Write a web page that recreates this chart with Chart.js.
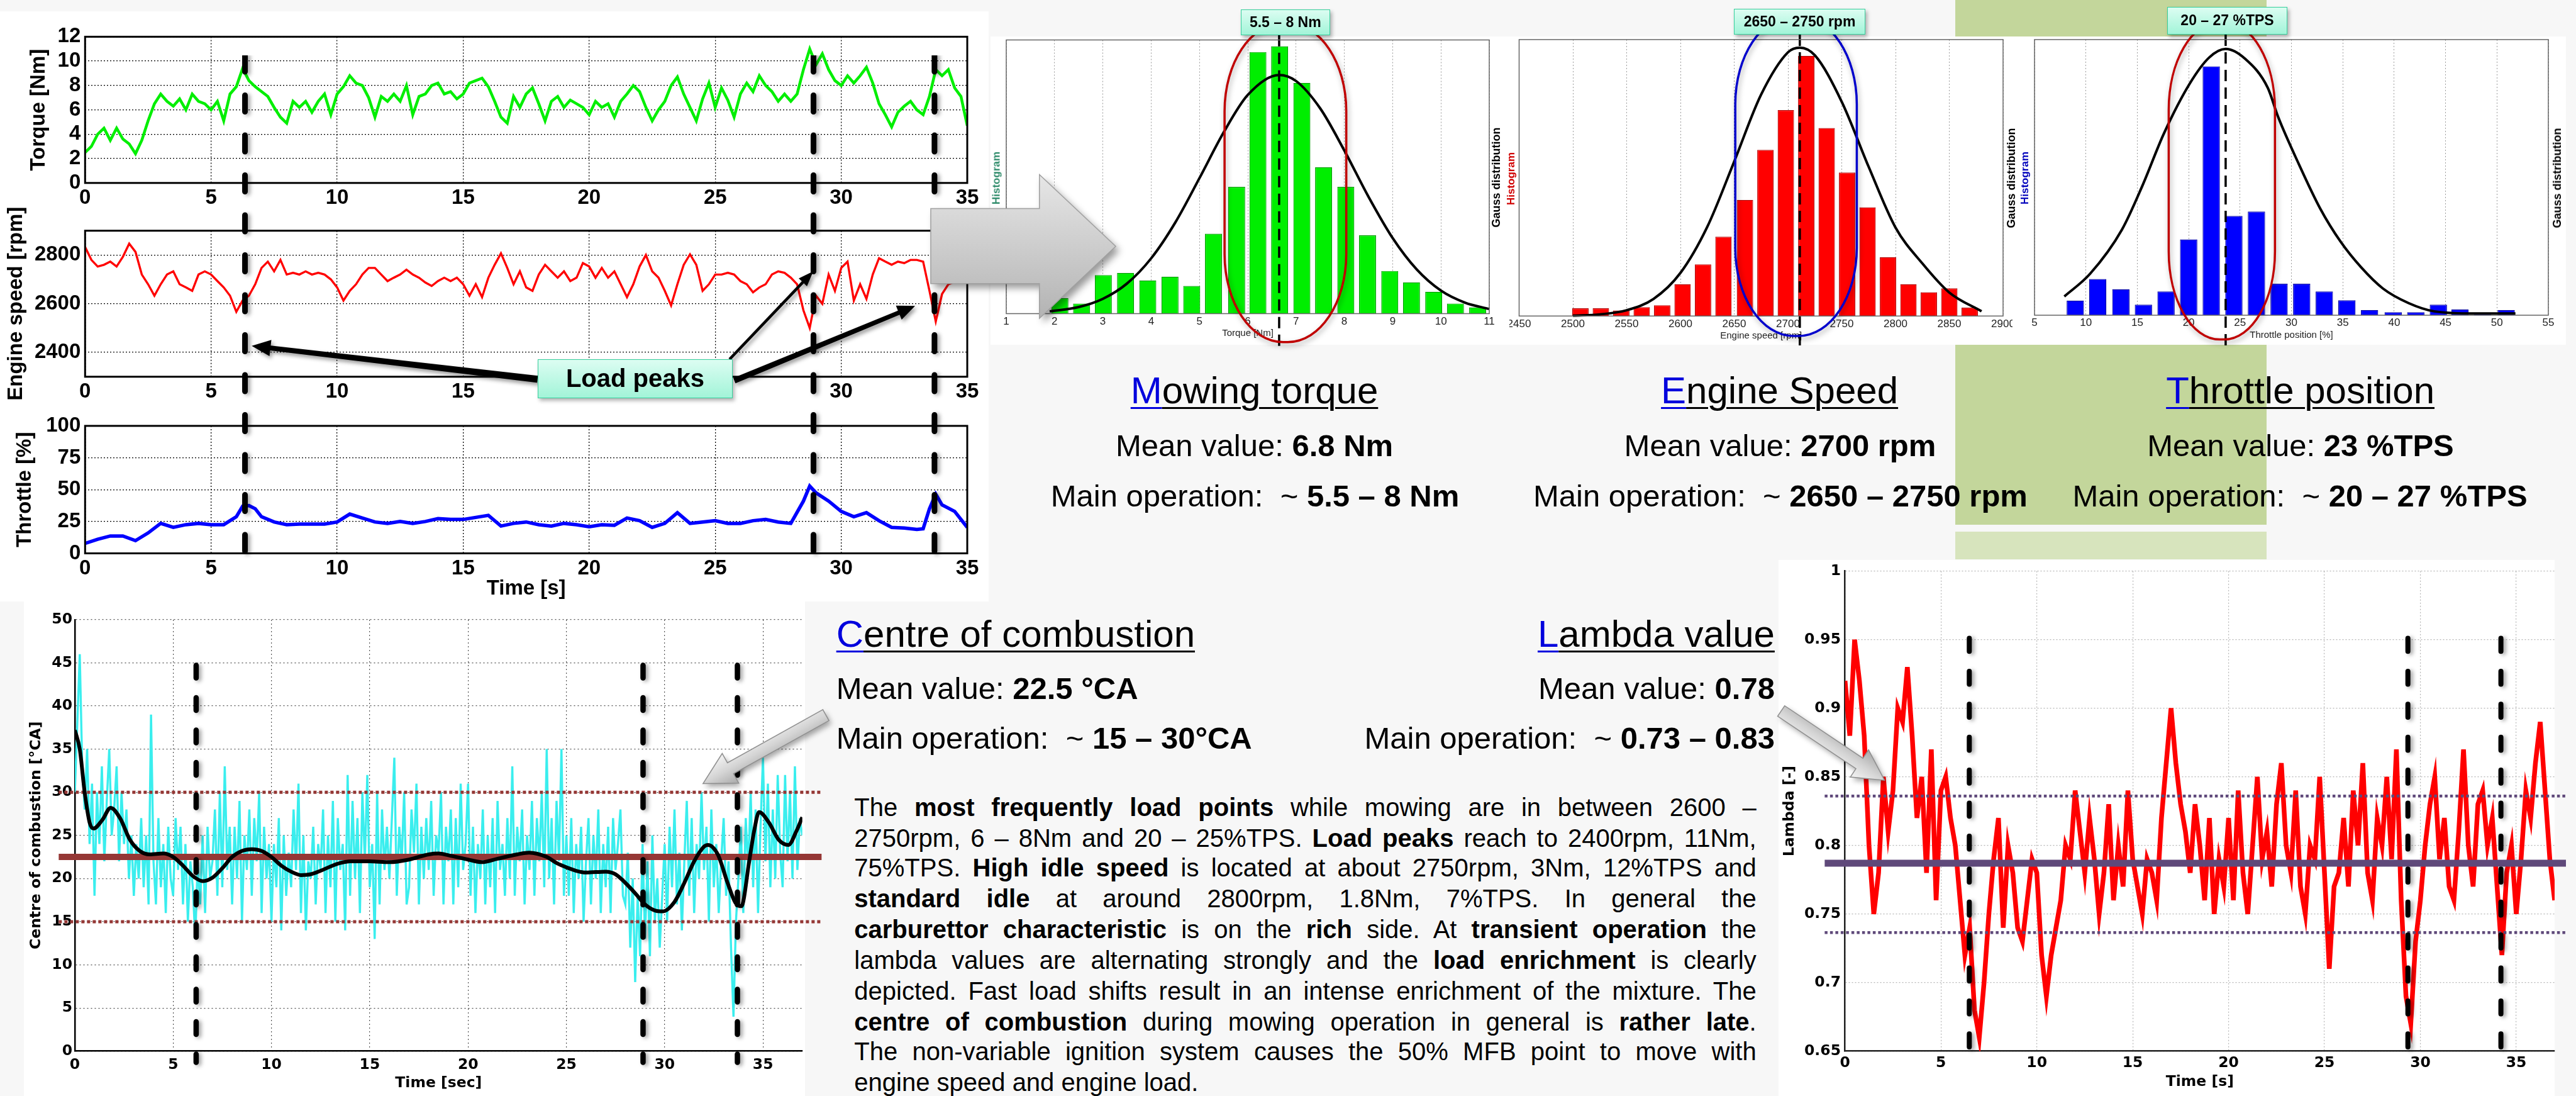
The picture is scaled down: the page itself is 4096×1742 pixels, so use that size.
<!DOCTYPE html>
<html>
<head>
<meta charset="utf-8">
<title>Mowing operation analysis</title>
<script src="https://cdn.jsdelivr.net/npm/chart.js@4.4.1/dist/chart.umd.min.js"></script>
<style>
  html, body { margin:0; padding:0; background:#f7f7f7; }
  #root { position:relative; width:4096px; height:1742px; overflow:hidden; background:#f7f7f7; font-family:"Liberation Sans", Arial, sans-serif; }
  .blk { position:absolute; }
  canvas { position:absolute; display:block; }
  .t { position:absolute; white-space:nowrap; color:#000; line-height:1; }
  .u { text-decoration:underline; text-decoration-thickness:3px; text-underline-offset:6px; }
  .first { color:#0000dd; }
  .lbl { position:absolute; display:flex; align-items:center; justify-content:center; font-weight:bold; color:#000;
         background:linear-gradient(#dcfdf2,#a2f4d8); border:1.5px solid #36cf9c; box-shadow:3px 4px 6px rgba(0,0,0,0.3);
         box-sizing:border-box; white-space:nowrap; z-index:7; }
  .rot { position:absolute; white-space:nowrap; font-weight:bold; line-height:1; transform:translate(-50%,-50%) rotate(-90deg); z-index:6; }
</style>
</head>
<body>
<div id="root"></div>
<script>
// ======================= DATA =======================
const timeTicks = [0, 5, 10, 15, 20, 25, 30, 35];
const torqueTicks = [0, 2, 4, 6, 8, 10, 12];
const speedTicks = [2400, 2600, 2800];
const throttleTicks = [0, 25, 50, 75, 100];

const torqueStep = 0.25;
const torqueValues = [
  2.5, 3.0, 4.0, 4.5,   3.5, 4.5, 3.6, 3.2,   2.4, 3.5, 5.1, 6.5,   7.3, 6.7, 6.3, 6.9,
  6.0, 7.3, 6.7, 6.5,   6.0, 6.7, 5.1, 7.3,   7.9, 9.4, 8.4, 7.9,   7.5, 7.1, 6.2, 5.4,
  4.9, 6.7, 6.2, 6.7,   5.8, 6.7, 7.3, 5.6,   7.3, 7.9, 8.8, 8.2,   8.0, 7.0, 5.4, 7.1,
  6.7, 7.3, 6.7, 8.0,   5.6, 7.1, 7.3, 8.0,   8.2, 7.3, 7.5, 6.9,   7.3, 8.2, 8.4, 8.6,
  7.9, 6.7, 5.4, 4.9,   7.1, 6.2, 7.3, 7.8,   6.5, 5.1, 6.7, 7.1,   6.2, 6.8, 6.5, 6.2,
  5.6, 6.7, 6.2, 6.5,   5.4, 6.7, 7.3, 8.0,   7.5, 6.2, 5.1, 6.0,   6.7, 8.0, 8.7, 7.3,
  6.2, 5.1, 6.9, 8.2,   6.2, 7.8, 6.8, 5.4,   7.3, 8.2, 7.5, 8.8,   8.0, 7.5, 6.7, 7.3,
  6.7, 7.3, 9.3, 11.0,  9.7, 10.6, 9.3, 8.4,  8.0, 8.8, 8.2, 8.8,   9.5, 8.2, 6.5, 5.6,
  4.6, 5.8, 6.3, 6.7,   6.0, 5.6, 7.1, 9.3,   8.8, 9.3, 7.8, 7.1,   4.7
];
const speedStep = 0.25;
const speedValues = [
  2833, 2780, 2753, 2760,  2773, 2753, 2793, 2847,  2813, 2720, 2680, 2633,  2680, 2720, 2733, 2680,
  2667, 2653, 2720, 2733,  2720, 2693, 2667, 2633,  2567, 2613, 2633, 2680,  2747, 2773, 2733, 2780,
  2720, 2727, 2720, 2733,  2720, 2727, 2720, 2700,  2667, 2613, 2653, 2680,  2720, 2747, 2747, 2720,
  2693, 2707, 2720, 2740,  2720, 2707, 2687, 2673,  2693, 2707, 2693, 2707,  2680, 2633, 2680, 2627,
  2707, 2760, 2807, 2747,  2680, 2733, 2667, 2653,  2720, 2760, 2733, 2707,  2733, 2693, 2707, 2767,
  2753, 2707, 2747, 2707,  2733, 2680, 2627, 2680,  2753, 2800, 2733, 2707,  2653, 2593, 2680, 2760,
  2803, 2760, 2653, 2680,  2720, 2720, 2727, 2720,  2693, 2680, 2647, 2667,  2680, 2720, 2733, 2727,
  2707, 2680, 2573, 2500,  2633, 2600, 2720, 2653,  2747, 2773, 2613, 2680,  2620, 2720, 2787, 2773,
  2760, 2773, 2767, 2780,  2780, 2773, 2653, 2527,  2640, 2680, 2690, 2700,  2710
];
const throttleTime = [0,0.5,1,1.5,2,2.5,3,3.5,4,4.5,5,5.5,6,6.25,6.5,6.75,7,7.5,8,8.5,9,9.5,10,10.5,11,11.5,12,12.5,13,13.5,14,14.5,15,15.5,16,16.5,17,17.5,18,18.5,19,19.5,20,20.5,21,21.5,22,22.5,23,23.5,24,24.5,25,25.5,26,26.5,27,27.5,28,28.5,28.75,29,29.5,30,30.5,31,31.5,32,32.5,33,33.25,33.5,33.75,34,34.5,35];
const throttleValues = [7.8,11,13.6,13.6,10,16,23.5,20.4,22.5,23.5,22.5,22.5,28.7,37,37.5,35,28.7,24.6,22.5,23,23,23,24.6,30.8,27.7,24.6,23.5,25,23.5,25,27.2,26.6,26.6,28.2,29.8,21.4,23.5,24.6,22.5,21.4,23.5,22.5,20.9,22.5,22,27.7,25.6,20.4,23.5,31.9,23.5,24.6,25.6,23.5,23.5,25.6,26.6,24.6,23.5,41,52.8,47.5,41,32.9,28.7,31.9,25.6,20.4,19.9,18.8,19.3,35,46.5,38,32.9,20.4];
const loadPeakTimes = [6.35, 28.9, 33.7];

const torqueHistTicks = [1,2,3,4,5,6,7,8,9,10,11];
const torqueBins = [2.11,2.56,3.01,3.47,3.93,4.39,4.84,5.29,5.77,6.21,6.66,7.12,7.57,8.03,8.48,8.94,9.39,9.85,10.3,10.76];
const torqueCounts = [5.7,3.7,14.1,14.9,12.1,13.5,10.1,29.2,46.3,95.6,97.7,84.3,53.5,46.3,28.6,15.6,11.4,8.0,3.7,2.3];
const torqueGaussX = [1.9,2.5,3,3.5,4,4.5,5,5.5,6,6.65,7,7.5,8,8.5,9,9.5,10,10.5,11];
const torqueGaussY = [0.8,2.4,5.4,11.0,20.2,33.3,49.5,66.2,79.9,87.2,85.0,75.0,59.6,42.7,27.6,16.1,8.4,4.0,1.7];
const torqueMean = 6.65;
const torqueMainRange = [5.52, 8.04];

const speedHistTicks = [2450,2500,2550,2600,2650,2700,2750,2800,2850,2900];
const speedBins = [2507,2526,2545,2564,2583,2602,2621,2640,2660,2679,2698,2717,2736,2755,2774,2793,2812,2831,2850,2869];
const speedCounts = [2.8,2.8,2.0,3.2,3.9,11.5,18.7,28.7,42.0,60.1,74.5,94.1,68.0,51.9,39.3,21.3,11.5,8.6,10.0,3.0];
const speedGaussX = [2500,2525,2550,2575,2600,2625,2650,2675,2700,2711,2725,2750,2775,2800,2825,2850,2880];
const speedGaussY = [0.1,0.6,2.1,6.2,15.6,32.3,55.9,80.1,95.4,97.1,94.3,77.5,54,32,19,8.5,1.7];
const speedMean = 2711;
const speedMainRange = [2651, 2764];

const throttleHistTicks = [5,10,15,20,25,30,35,40,45,50,55];
const throttleBins = [8.97,11.15,13.4,15.6,17.8,20.0,22.2,24.4,26.6,28.8,31.0,33.2,35.4,37.6,39.9,42.1,44.3,46.4,48.6,50.9];
const throttleCounts = [5.3,13.1,9.4,3.8,8.6,27.5,90.3,36.0,37.6,11.4,11.4,8.6,5.4,1.9,1.1,1.1,3.8,2.1,0.5,1.9];
const throttleGaussX = [7.9,10.4,13.5,15.5,17.6,20.1,22,23.6,25.5,27.7,28.7,30.7,32.8,34.8,36.8,38.9,41.4,43.9,48,51.8];
const throttleGaussY = [6.8,15,31,47,66,84,93.5,96.6,93,82.5,72,55,38.7,26.6,17.3,9.7,4.4,1.4,0.6,0.6];
const throttleMean = 23.6;
const throttleMainRange = [18.06, 28.4];

const cocTicksX = [0, 5, 10, 15, 20, 25, 30, 35];
const cocTicksY = [0, 5, 10, 15, 20, 25, 30, 35, 40, 45, 50];
const cocStep = 0.125;
const cocValues = [
  30, 38, 46, 33, 28, 35, 24, 31,
  18, 30, 24, 33, 22, 29, 35, 25,
  28, 33, 22, 30, 24, 28, 20, 25,
  18, 24, 20, 27, 19, 25, 17, 39,
  22, 17, 27, 19, 24, 16, 26, 20,
  18, 27, 21, 26, 17, 24, 15, 22,
  19, 13, 22, 17, 25, 16, 26, 20,
  22, 28, 18, 30, 19, 33, 21, 26,
  17, 26, 20, 29, 15, 25, 21, 28,
  18, 27, 22, 30, 16, 26, 20, 24,
  15, 24, 19, 27, 14, 25, 18, 23,
  19, 28, 21, 31, 16, 25, 14, 22,
  20, 26, 17, 24, 21, 28, 16, 25,
  19, 29, 15, 27, 21, 24, 14, 32,
  18, 29, 20, 27, 16, 30, 22, 32,
  19, 24, 13, 30, 17, 28, 21, 26,
  20, 27, 34, 18, 26, 22, 30, 17,
  19, 28, 23, 31, 17, 26, 20, 27,
  21, 29, 18, 25, 23, 30, 17, 26,
  22, 28, 17, 27, 19, 31, 21, 24,
  31, 18, 26, 16, 24, 20, 28, 17,
  25, 19, 27, 16, 29, 21, 24, 18,
  27, 20, 33, 18, 26, 22, 28, 17,
  25, 21, 29, 18, 27, 22, 30, 19,
  35, 20, 27, 17, 29, 22, 35, 18,
  25, 18, 27, 16, 24, 20, 26, 15,
  22, 27, 17, 25, 20, 28, 16, 24,
  19, 26, 16, 27, 21, 24, 28, 18,
  17, 23, 12, 20, 8, 18, 11, 24,
  13, 22, 11, 25, 15, 20, 12, 18,
  24, 15, 26, 19, 28, 17, 23, 14,
  22, 29, 18, 27, 16, 24, 20, 30,
  21, 26, 15, 28, 19, 24, 16, 22,
  27, 18, 22, 12, 4, 15, 20, 26,
  16, 27, 21, 30, 19, 28, 16, 26,
  34, 22, 31, 19, 28, 20, 32, 23,
  19, 32, 22, 30, 20, 33, 21, 27,
  25
];
const cocSmoothTime = [0,0.25,0.5,0.75,0.95,1.4,1.82,2.3,2.8,3.3,3.8,4.5,5.0,5.5,6.0,6.5,7.0,7.5,8.0,8.5,9.0,9.5,10.0,10.5,11.0,11.5,12.0,12.5,13.0,13.5,14.0,15.0,16.0,17.0,18.0,18.5,19.0,20.0,20.7,21.5,22.5,23.1,24.0,24.5,25.0,25.5,26.0,27.0,27.5,28.0,28.5,29.0,29.5,29.9,30.5,31.0,31.5,32.0,32.2,32.7,33.2,33.6,33.9,34.3,34.55,34.8,35.3,35.8,36.3,36.7,37.0];
const cocSmoothValues = [37.2,35,30,26.5,25.8,26.8,28.2,27,24.5,23.2,22.8,22.9,22.5,21.5,20.3,19.7,20.1,21.2,22.5,23.2,23.4,23.2,22.5,21.5,20.8,20.4,20.5,20.9,21.4,21.8,22.0,22.0,21.9,22.2,22.8,22.9,22.7,22.2,21.9,22.3,22.8,23.0,22.5,21.8,21.3,20.9,20.7,20.8,20.5,19.5,18.3,17.0,16.3,16.2,17.3,19.5,22.0,23.7,23.9,22.8,19.5,17.2,16.8,22.0,25.5,27.7,26.5,24.5,23.9,25.5,27.1];
const cocMean = 22.5;
const cocBand = [15, 30];
const cocPeakTimes = [6.17, 28.9, 33.7];

const lambdaTicksX = [0, 5, 10, 15, 20, 25, 30, 35];
const lambdaTicksY = [0.65, 0.7, 0.75, 0.8, 0.85, 0.9, 0.95, 1];
const lambdaTickLabels = ['0.65', '0.7', '0.75', '0.8', '0.85', '0.9', '0.95', '1'];
const lambdaStep = 0.25;
const lambdaValues = [
  .92, .88, .95, .92,  .88, .80, .75, .78,  .85, .81, .84, .90,  .89, .93, .88, .82,
  .85, .78, .87, .76,  .84, .85, .82, .80,  .76, .72, .74, .68,  .66, .70, .75, .79,
  .82, .74, .80, .78,  .74, .73, .76, .79,  .78, .72, .69, .72,  .74, .76, .80, .79,
  .84, .81, .78, .82,  .79, .75, .78, .83,  .76, .80, .77, .84,  .79, .77, .75, .79,
  .78, .76, .82, .86,  .90, .86, .83, .81,  .78, .83, .80, .76,  .82, .75, .79, .77,
  .82, .76, .84, .78,  .75, .80, .85, .79,  .81, .77, .83, .86,  .80, .78, .84, .77,
  .75, .80, .79, .85,  .78, .71, .77, .78,  .82, .77, .84, .80,  .86, .78, .76, .82,
  .80, .85, .79, .87,  .76, .69, .67, .73,  .76, .80, .83, .85,  .79, .82, .77, .76,
  .81, .87, .80, .77,  .83, .84, .80, .82,  .77, .72, .78, .80,  .75, .79, .84, .82,
  .86, .89, .84, .79,  .76
];
const lambdaMean = 0.787;
const lambdaBand = [0.7365, 0.836];
const lambdaPeakTimes = [6.48, 29.35, 34.2];

// ======================= HELPERS =======================
const FONT = '"Liberation Sans", Arial, sans-serif';
const DVS = '"DejaVu Sans", sans-serif';
const root = document.getElementById('root');

function block(l, t, w, h, bg, z) {
  const d = document.createElement('div');
  d.className = 'blk';
  Object.assign(d.style, { left: l + 'px', top: t + 'px', width: w + 'px', height: h + 'px', background: bg, zIndex: z });
  root.appendChild(d);
  return d;
}
function mkCanvas(box, z) {
  const c = document.createElement('canvas');
  c.width = Math.round(box.w); c.height = Math.round(box.h);
  Object.assign(c.style, { left: box.l + 'px', top: box.t + 'px', width: Math.round(box.w) + 'px', height: Math.round(box.h) + 'px', zIndex: z });
  root.appendChild(c);
  return c;
}
function setTicks(values) { return s => { s.ticks = values.map(v => ({ value: v })); }; }
function fixW(w) { return s => { s.width = w; s.paddingTop = 0; s.paddingBottom = 0; }; }
function fixH(h) { return s => { s.height = h; s.paddingLeft = 0; s.paddingRight = 0; }; }
function pts(xs, ys) { return ys.map((y, i) => ({ x: xs[i], y })); }
function stepPts(step, ys) { return ys.map((y, i) => ({ x: i * step, y })); }

Chart.defaults.font.family = FONT;
Chart.defaults.color = '#000';

const dsShadow = {
  id: 'dsShadow',
  beforeDatasetDraw(chart, args) {
    const ds = chart.data.datasets[args.index];
    if (ds.shadow) {
      const ctx = chart.ctx; ctx.save();
      ctx.shadowColor = ds.shadow.color; ctx.shadowBlur = ds.shadow.blur;
      ctx.shadowOffsetX = ds.shadow.x; ctx.shadowOffsetY = ds.shadow.y;
    }
  },
  afterDatasetDraw(chart, args) {
    const ds = chart.data.datasets[args.index];
    if (ds.shadow) chart.ctx.restore();
  }
};
Chart.register(dsShadow);

function framePlugin(color, width) {
  return { id: 'frame', afterDraw(chart) {
    const a = chart.chartArea, ctx = chart.ctx;
    ctx.save(); ctx.strokeStyle = color; ctx.lineWidth = width;
    ctx.strokeRect(a.left, a.top, a.right - a.left, a.bottom - a.top); ctx.restore();
  } };
}

function drawArrow(ctx, x1, y1, x2, y2, st) {
  const dx = x2 - x1, dy = y2 - y1, L = Math.hypot(dx, dy), ux = dx / L, uy = dy / L, nx = -uy, ny = ux;
  const bx = x2 - ux * st.headL, by = y2 - uy * st.headL, s = st.shaft / 2, h = st.headW / 2;
  const s0 = (st.tail != null ? st.tail : st.shaft) / 2;
  ctx.save();
  if (st.shadow) { ctx.shadowColor = st.shadow; ctx.shadowBlur = st.blur || 8; ctx.shadowOffsetX = st.sx || 3; ctx.shadowOffsetY = st.sy || 3; }
  ctx.beginPath();
  ctx.moveTo(x1 + nx * s0, y1 + ny * s0);
  ctx.lineTo(bx + nx * s, by + ny * s);
  ctx.lineTo(bx + nx * h, by + ny * h);
  ctx.lineTo(x2, y2);
  ctx.lineTo(bx - nx * h, by - ny * h);
  ctx.lineTo(bx - nx * s, by - ny * s);
  ctx.lineTo(x1 - nx * s0, y1 - ny * s0);
  ctx.closePath();
  if (st.gradient) {
    const g = ctx.createLinearGradient(x1 + nx * h, y1 + ny * h, x1 - nx * h, y1 - ny * h);
    g.addColorStop(0, st.gradient[0]); g.addColorStop(0.5, st.gradient[1]); g.addColorStop(1, st.gradient[2]);
    ctx.fillStyle = g;
  } else ctx.fillStyle = st.fill;
  ctx.fill();
  if (st.stroke) { ctx.shadowColor = 'transparent'; ctx.strokeStyle = st.stroke; ctx.lineWidth = st.strokeW || 1.5; ctx.stroke(); }
  ctx.restore();
}
function arrowPlugin(list) {
  return { id: 'arrows', afterDraw(chart) {
    const xs = chart.scales.x, ys = chart.scales.y;
    list.forEach(a => drawArrow(chart.ctx,
      xs.getPixelForValue(a.from[0]), ys.getPixelForValue(a.from[1]),
      xs.getPixelForValue(a.to[0]), ys.getPixelForValue(a.to[1]), a.style));
  } };
}
function ovalPath(ctx, x, y, w, h, rx, ry) {
  const k = 0.5523;
  ctx.beginPath();
  ctx.moveTo(x + rx, y);
  ctx.lineTo(x + w - rx, y);
  ctx.bezierCurveTo(x + w - rx + k * rx, y, x + w, y + ry - k * ry, x + w, y + ry);
  ctx.lineTo(x + w, y + h - ry);
  ctx.bezierCurveTo(x + w, y + h - ry + k * ry, x + w - rx + k * rx, y + h, x + w - rx, y + h);
  ctx.lineTo(x + rx, y + h);
  ctx.bezierCurveTo(x + rx - k * rx, y + h, x, y + h - ry + k * ry, x, y + h - ry);
  ctx.lineTo(x, y + ry);
  ctx.bezierCurveTo(x, y + ry - k * ry, x + rx - k * rx, y, x + rx, y);
  ctx.closePath();
}
function ovalPlugin(range, yTop, yBot, color) {
  return { id: 'oval', afterDraw(chart) {
    const xs = chart.scales.x, ys = chart.scales.y, ctx = chart.ctx;
    const x0 = xs.getPixelForValue(range[0]), x1 = xs.getPixelForValue(range[1]);
    const y0 = ys.getPixelForValue(yTop), y1 = ys.getPixelForValue(yBot);
    const w = x1 - x0;
    ctx.save();
    ctx.shadowColor = 'rgba(0,0,0,0.35)'; ctx.shadowBlur = 8; ctx.shadowOffsetX = 2; ctx.shadowOffsetY = 4;
    ovalPath(ctx, x0, y0, w, y1 - y0, w * 0.48, 140);
    ctx.strokeStyle = color; ctx.lineWidth = 3.5; ctx.stroke();
    ctx.restore();
  } };
}
function bigArrowPlugin(p) {
  return { id: 'bigArrow', afterDraw(chart) {
    const xs = chart.scales.x, ys = chart.scales.y, ctx = chart.ctx;
    const X = v => xs.getPixelForValue(v), Y = v => ys.getPixelForValue(v);
    ctx.save();
    ctx.shadowColor = 'rgba(0,0,0,0.4)'; ctx.shadowBlur = 12; ctx.shadowOffsetX = 6; ctx.shadowOffsetY = 7;
    ctx.beginPath();
    ctx.moveTo(X(p.tailX), Y(p.bodyTop));
    ctx.lineTo(X(p.baseX), Y(p.bodyTop));
    ctx.lineTo(X(p.baseX), Y(p.headTop));
    ctx.lineTo(X(p.tipX), Y(p.tipY));
    ctx.lineTo(X(p.baseX), Y(p.headBot));
    ctx.lineTo(X(p.baseX), Y(p.bodyBot));
    ctx.lineTo(X(p.tailX), Y(p.bodyBot));
    ctx.closePath();
    const g = ctx.createLinearGradient(0, Y(p.headTop), 0, Y(p.headBot));
    g.addColorStop(0, '#e6e6e6'); g.addColorStop(0.5, '#cdcdcd'); g.addColorStop(1, '#b3b3b3');
    ctx.fillStyle = g; ctx.fill();
    ctx.shadowColor = 'transparent'; ctx.strokeStyle = '#a0a0a0'; ctx.lineWidth = 1.5; ctx.stroke();
    ctx.restore();
  } };
}

function txt(html, o) {
  const d = document.createElement('div');
  d.className = 't';
  d.innerHTML = html;
  d.style.fontSize = o.size + 'px';
  if (o.weight) d.style.fontWeight = o.weight;
  if (o.color) d.style.color = o.color;
  d.style.zIndex = o.z || 6;
  root.appendChild(d);
  const w = d.getBoundingClientRect().width;
  if (o.justify) {
    const n = (d.textContent.match(/ /g) || []).length;
    if (w < o.justify && n) d.style.wordSpacing = ((o.justify - w) / n) + 'px';
    else if (w > o.justify) { d.style.transformOrigin = '0 0'; d.style.transform = 'scaleX(' + (o.justify / w) + ')'; }
  }
  let left = o.x;
  if (o.align === 'center') left = o.x - w / 2;
  else if (o.align === 'right') left = o.x - w;
  d.style.left = left + 'px';
  d.style.top = (o.base - 0.8465 * o.size) + 'px';
  return d;
}
function rot(text, cx, cy, size, color) {
  const d = document.createElement('div');
  d.className = 'rot'; d.textContent = text;
  Object.assign(d.style, { left: cx + 'px', top: cy + 'px', fontSize: size + 'px', color });
  root.appendChild(d);
}
function lbl(text, l, t, w, h, size) {
  const d = document.createElement('div');
  d.className = 'lbl'; d.textContent = text;
  Object.assign(d.style, { left: l + 'px', top: t + 'px', width: w + 'px', height: h + 'px', fontSize: size + 'px' });
  root.appendChild(d);
}

const baseOpts = () => ({ responsive: false, animation: false, events: [], devicePixelRatio: 1,
  plugins: { legend: { display: false }, tooltip: { enabled: false } } });

// ======================= BACKGROUND BLOCKS =======================
block(3109, 0, 495, 834, '#c3d69b', 0);
block(3109, 845, 495, 44, '#d7e4bd', 0);
block(0, 18, 1572, 938, '#ffffff', 1);
block(1575, 58, 2505, 490, '#ffffff', 1);
block(38, 956, 1242, 786, '#ffffff', 1);
block(2828, 890, 1234, 852, '#ffffff', 1);

// ======================= TOP-LEFT TIME SERIES =======================
function timeChart(box, plot, data, color, lw, yMin, yMax, yTicks, yTitle, yTitlePad, xTitle, extraPlugins) {
  const xH = box.t + box.h - plot.b, yW = plot.l - box.l;
  const opts = baseOpts();
  opts.layout = { padding: { top: plot.t - box.t, right: box.l + box.w - plot.r, left: 0, bottom: 0 } };
  opts.scales = {
    x: { type: 'linear', min: 0, max: 35, afterBuildTicks: setTicks(timeTicks), afterFit: fixH(xH),
      grid: { color: '#000', lineWidth: 1.3, drawTicks: false }, border: { display: false, dash: [2, 3] },
      ticks: { font: { family: FONT, size: 33, weight: 'bold' }, color: '#000', padding: 4.4, maxRotation: 0, autoSkip: false, callback: v => String(v) },
      title: xTitle ? { display: true, text: xTitle, font: { family: FONT, size: 33, weight: 'bold' }, color: '#000', padding: { top: 0, bottom: 0 } } : { display: false } },
    y: { type: 'linear', min: yMin, max: yMax, afterBuildTicks: setTicks(yTicks), afterFit: fixW(yW),
      grid: { color: '#000', lineWidth: 1.3, drawTicks: false }, border: { display: false, dash: [2, 3] },
      ticks: { font: { family: FONT, size: 33, weight: 'bold' }, color: '#000', padding: 7, autoSkip: false, callback: v => String(v) },
      title: { display: true, text: yTitle, font: { family: FONT, size: 33, weight: 'bold' }, color: '#000', padding: { top: yTitlePad, bottom: 0 } } }
  };
  return new Chart(mkCanvas(box, 2), {
    type: 'line',
    data: { datasets: [{ data, borderColor: color, borderWidth: lw, pointRadius: 0, tension: 0 }] },
    options: opts,
    plugins: [framePlugin('#000', 3)].concat(extraPlugins || [])
  });
}

timeChart({ l: 0, t: 18, w: 1572, h: 318 }, { l: 135.3, t: 58.4, r: 1538, b: 290.8 },
  stepPts(torqueStep, torqueValues), '#00ee00', 4.5, 0, 12, torqueTicks, 'Torque [Nm]', 42, null);

const loadPeakArrows = [
  { from: [17.95, 2290], to: [6.61, 2427], style: { shaft: 8, tail: 11, headW: 26, headL: 30, fill: '#000', shadow: 'rgba(0,0,0,0.4)', blur: 6, sx: 3, sy: 4 } },
  { from: [25.57, 2372], to: [28.89, 2733], style: { shaft: 4.5, headW: 18, headL: 24, fill: '#000', shadow: 'rgba(0,0,0,0.4)', blur: 6, sx: 3, sy: 4 } },
  { from: [25.76, 2284], to: [32.93, 2591], style: { shaft: 7, tail: 9, headW: 24, headL: 28, fill: '#000', shadow: 'rgba(0,0,0,0.4)', blur: 6, sx: 3, sy: 4 } }
];
timeChart({ l: 0, t: 318, w: 1572, h: 337 }, { l: 135.3, t: 366.7, r: 1538, b: 598.8 },
  stepPts(speedStep, speedValues), '#ff0000', 3.4, 2300, 2900, speedTicks, 'Engine speed [rpm]', 6, null,
  [arrowPlugin(loadPeakArrows)]);

timeChart({ l: 0, t: 655, w: 1572, h: 301 }, { l: 135.3, t: 676.9, r: 1538, b: 879.5 },
  pts(throttleTime, throttleValues), '#0000ff', 5.5, 0, 100, throttleTicks, 'Throttle [%]', 20, 'Time [s]');

// dashed load-peak markers across the three time charts
(function () {
  const box = { l: 135.3, t: 87.6, w: 1402.7, h: 805.8 };
  const opts = baseOpts();
  opts.layout = { padding: 0 };
  opts.scales = { x: { type: 'linear', min: 0, max: 35, display: false }, y: { type: 'linear', min: 0, max: 1, display: false } };
  new Chart(mkCanvas(box, 3), {
    type: 'line',
    data: { datasets: loadPeakTimes.map(t => ({ data: [{ x: t, y: 1 }, { x: t, y: 0 }], borderColor: '#000', borderWidth: 9,
      borderDash: [26, 37.5], borderCapStyle: 'round', pointRadius: 0, clip: false,
      shadow: { color: 'rgba(0,0,0,0.35)', blur: 6, x: 4, y: 2 } })) },
    options: opts
  });
})();

// ======================= HISTOGRAMS =======================
function histChart(box, plot, o) {
  const xH = box.t + box.h - plot.b;
  const opts = baseOpts();
  opts.layout = { padding: { top: plot.t - box.t, right: box.l + box.w - plot.r, left: plot.l - box.l, bottom: 0 } };
  opts.scales = {
    x: { type: 'linear', min: o.xMin, max: o.xMax, offset: false, afterBuildTicks: setTicks(o.ticks), afterFit: fixH(xH),
      grid: { offset: false, color: '#9a9a9a', lineWidth: 1, drawTicks: false }, border: { display: false, dash: [2, 3] },
      ticks: { font: { family: FONT, size: 17 }, color: '#222', padding: o.tickPad, maxRotation: 0, autoSkip: false, callback: v => String(v) },
      title: { display: true, text: o.title, font: { family: FONT, size: 15 }, color: '#222', padding: { top: 0, bottom: o.titlePad } } },
    y: { type: 'linear', min: 0, max: 100, display: false }
  };
  const datasets = [
    { type: 'bar', data: pts(o.bins, o.counts), backgroundColor: o.fill, borderColor: o.edge, borderWidth: 1.2,
      categoryPercentage: 0.8, barPercentage: 1.0, order: 3 },
    { type: 'line', data: pts(o.gx, o.gy), borderColor: '#000', borderWidth: 4, tension: 0.4, cubicInterpolationMode: 'monotone',
      pointRadius: 0, order: 2, clip: false },
    { type: 'line', data: [{ x: o.mean, y: 101.8 }, { x: o.mean, y: -12 }], borderColor: '#000', borderWidth: 3.5,
      borderDash: [18, 10], pointRadius: 0, order: 1, clip: false }
  ];
  const plugins = [framePlugin('#666', 1.5), ovalPlugin(o.range, o.ovalTop, o.ovalBot, o.ovalColor)].concat(o.extra || []);
  return new Chart(mkCanvas(box, 4), { type: 'bar', data: { datasets }, options: opts, plugins });
}

histChart({ l: 1470, t: 0, w: 930, h: 560 }, { l: 1600, t: 63.5, r: 2368, b: 498.5 }, {
  xMin: 1, xMax: 11, ticks: torqueHistTicks, bins: torqueBins, counts: torqueCounts, gx: torqueGaussX, gy: torqueGaussY,
  mean: torqueMean, range: torqueMainRange, ovalTop: 106.1, ovalBot: -10.4, ovalColor: '#c00000',
  fill: '#00ee00', edge: '#009900', title: 'Torque [Nm]', tickPad: 2.3, titlePad: 21,
  extra: [bigArrowPlugin({ tailX: -0.563, baseX: 1.687, tipX: 3.266, tipY: 24.6, bodyTop: 38.4, bodyBot: 10.95, headTop: 50.8, headBot: -1.75 })]
});
histChart({ l: 2400, t: 0, w: 800, h: 560 }, { l: 2415.5, t: 62.9, r: 3185, b: 502.3 }, {
  xMin: 2450, xMax: 2900, ticks: speedHistTicks, bins: speedBins, counts: speedCounts, gx: speedGaussX, gy: speedGaussY,
  mean: speedMean, range: speedMainRange, ovalTop: 108.4, ovalBot: -7.2, ovalColor: '#0000cc',
  fill: '#ff0000', edge: '#b00000', title: 'Engine speed [rpm]', tickPad: 2.5, titlePad: 17
});
histChart({ l: 3205, t: 0, w: 875, h: 560 }, { l: 3235, t: 62.9, r: 4052, b: 501 }, {
  xMin: 5, xMax: 55, ticks: throttleHistTicks, bins: throttleBins, counts: throttleCounts, gx: throttleGaussX, gy: throttleGaussY,
  mean: throttleMean, range: throttleMainRange, ovalTop: 106.4, ovalBot: -8.8, ovalColor: '#c00000',
  fill: '#0000ff', edge: '#0000a0', title: 'Throttle position [%]', tickPad: 1.8, titlePad: 18
});

rot('Histogram', 1584, 283, 17, '#2e8b6a');
rot('Gauss distribution', 2379, 282, 18, '#000');
rot('Histogram', 2402, 284, 17, '#d00000');
rot('Gauss distribution', 3198, 283, 18, '#000');
rot('Histogram', 3219, 283, 17, '#0000bb');
rot('Gauss distribution', 4066, 283, 18, '#000');

lbl('5.5 – 8 Nm', 1973, 14.9, 141.6, 41.6, 23);
lbl('2650 – 2750 rpm', 2757, 14, 209, 40.6, 23);
lbl('20 – 27 %TPS', 3446, 10.8, 191, 43.8, 23);
lbl('Load peaks', 854.7, 570.9, 310.5, 62.2, 40);

// ======================= CENTRE OF COMBUSTION =======================
(function () {
  const box = { l: 38, t: 956, w: 1300, h: 786 }, plot = { l: 119, t: 984.9, r: 1275.7, b: 1670.7 };
  const opts = baseOpts();
  opts.layout = { padding: { top: plot.t - box.t, right: box.l + box.w - plot.r, left: 0, bottom: 0 } };
  const tickFont = { family: DVS, size: 23.5, weight: 'bold' };
  opts.scales = {
    x: { type: 'linear', min: 0, max: 37, afterBuildTicks: setTicks(cocTicksX), afterFit: fixH(box.t + box.h - plot.b),
      grid: { color: '#555', lineWidth: 1.2, drawTicks: false }, border: { display: true, color: '#000', width: 2.5, dash: [2, 4] },
      ticks: { font: tickFont, color: '#000', padding: 8.2, maxRotation: 0, autoSkip: false, callback: v => String(v) },
      title: { display: true, text: 'Time [sec]', font: tickFont, color: '#000', padding: { top: 0, bottom: 6.4 } } },
    y: { type: 'linear', min: 0, max: 50, afterBuildTicks: setTicks(cocTicksY), afterFit: fixW(plot.l - box.l),
      grid: { color: '#555', lineWidth: 1.2, drawTicks: false }, border: { display: true, color: '#000', width: 2.5, dash: [2, 4] },
      ticks: { font: tickFont, color: '#000', padding: 4, autoSkip: false, callback: v => String(v) },
      title: { display: true, text: 'Centre of combustion [°CA]', font: tickFont, color: '#000', padding: { top: 5.9, bottom: 0 } } }
  };
  const xL = -0.82, xR = 37.98;
  const datasets = [
    { data: stepPts(cocStep, cocValues), borderColor: '#3aeeee', borderWidth: 3.4, pointRadius: 0, order: 5 },
    { data: [{ x: xL, y: cocBand[0] }, { x: xR, y: cocBand[0] }], borderColor: '#953735', borderWidth: 5, borderDash: [5, 4], pointRadius: 0, order: 4, clip: false },
    { data: [{ x: xL, y: cocBand[1] }, { x: xR, y: cocBand[1] }], borderColor: '#953735', borderWidth: 5, borderDash: [5, 4], pointRadius: 0, order: 4, clip: false },
    { data: [{ x: xL, y: cocMean }, { x: xR, y: cocMean }], borderColor: '#953735', borderWidth: 10, pointRadius: 0, order: 3, clip: false },
    { data: pts(cocSmoothTime, cocSmoothValues), borderColor: '#000', borderWidth: 6, tension: 0.4, cubicInterpolationMode: 'monotone', pointRadius: 0, order: 2 }
  ].concat(cocPeakTimes.map(t => ({ data: [{ x: t, y: 44.7 }, { x: t, y: -1.3 }], borderColor: '#000', borderWidth: 8.5,
    borderDash: [19.8, 31.7], borderCapStyle: 'round', pointRadius: 0, order: 1, clip: false,
    shadow: { color: 'rgba(0,0,0,0.35)', blur: 6, x: 4, y: 2 } })));
  const grayArrow = { shaft: 20, headW: 54, headL: 50, gradient: ['#f4f4f4', '#d4d4d4', '#a8a8a8'], stroke: '#8f8f8f', strokeW: 1.5,
    shadow: 'rgba(0,0,0,0.35)', blur: 8, sx: 4, sy: 5 };
  new Chart(mkCanvas(box, 2), { type: 'line', data: { datasets }, options: opts,
    plugins: [arrowPlugin([{ from: [38.2, 38.94], to: [31.95, 31.0], style: grayArrow }])] });
})();

// ======================= LAMBDA =======================
(function () {
  const box = { l: 2800, t: 890, w: 1280, h: 852 }, plot = { l: 2933.7, t: 907.7, r: 4062, b: 1670.7 };
  const opts = baseOpts();
  opts.layout = { padding: { top: plot.t - box.t, right: box.l + box.w - plot.r, left: 0, bottom: 0 } };
  const tickFont = { family: DVS, size: 23.5, weight: 'bold' };
  opts.scales = {
    x: { type: 'linear', min: 0, max: 37, afterBuildTicks: setTicks(lambdaTicksX), afterFit: fixH(box.t + box.h - plot.b),
      grid: { color: '#b5b5b5', lineWidth: 1.2, drawTicks: false }, border: { display: true, color: '#222', width: 2.5, dash: [2, 3] },
      ticks: { font: tickFont, color: '#000', padding: 5.2, maxRotation: 0, autoSkip: false, callback: v => String(v) },
      title: { display: true, text: 'Time [s]', font: tickFont, color: '#000', padding: { top: 0, bottom: 7.9 } } },
    y: { type: 'linear', min: 0.65, max: 1, afterBuildTicks: setTicks(lambdaTicksY), afterFit: fixW(plot.l - box.l),
      grid: { color: '#b5b5b5', lineWidth: 1.2, drawTicks: false }, border: { display: true, color: '#222', width: 2.5, dash: [2, 3] },
      ticks: { font: tickFont, color: '#000', padding: 6.7, autoSkip: false,
        callback: v => { const i = lambdaTicksY.findIndex(t => Math.abs(t - v) < 1e-9); return i >= 0 ? lambdaTickLabels[i] : ''; } },
      title: { display: true, text: 'Lambda [-]', font: tickFont, color: '#000', padding: { top: 31.5, bottom: 0 } } }
  };
  const xL = -1.06, xR = 37.83;
  const datasets = [
    { data: stepPts(lambdaStep, lambdaValues), borderColor: '#ff0000', borderWidth: 7.5, pointRadius: 0, order: 4 },
    { data: [{ x: xL, y: lambdaBand[0] }, { x: xR, y: lambdaBand[0] }], borderColor: '#5f497a', borderWidth: 4.5, borderDash: [4.5, 4], pointRadius: 0, order: 3, clip: false },
    { data: [{ x: xL, y: lambdaBand[1] }, { x: xR, y: lambdaBand[1] }], borderColor: '#5f497a', borderWidth: 4.5, borderDash: [4.5, 4], pointRadius: 0, order: 3, clip: false },
    { data: [{ x: xL, y: lambdaMean }, { x: xR, y: lambdaMean }], borderColor: '#5f497a', borderWidth: 11, pointRadius: 0, order: 2, clip: false }
  ].concat(lambdaPeakTimes.map(t => ({ data: [{ x: t, y: 0.951 }, { x: t, y: 0.6462 }], borderColor: '#000', borderWidth: 8,
    borderDash: [20.7, 31.7], borderCapStyle: 'round', pointRadius: 0, order: 1, clip: false,
    shadow: { color: 'rgba(0,0,0,0.35)', blur: 6, x: 4, y: 2 } })));
  const grayArrow = { shaft: 20, headW: 52, headL: 48, gradient: ['#f4f4f4', '#d4d4d4', '#a8a8a8'], stroke: '#8f8f8f', strokeW: 1.5,
    shadow: 'rgba(0,0,0,0.35)', blur: 8, sx: 4, sy: 5 };
  new Chart(mkCanvas(box, 2), { type: 'line', data: { datasets }, options: opts,
    plugins: [arrowPlugin([{ from: [-3.33, 0.898], to: [2.06, 0.8475], style: grayArrow }])] });
})();

// ======================= TEXT =======================
txt('<span class="u first">M</span><span class="u">owing torque</span>', { x: 1994.5, base: 642, size: 60, align: 'center' });
txt('<span class="u first">E</span><span class="u">ngine Speed</span>', { x: 2829.6, base: 642, size: 60, align: 'center' });
txt('<span class="u first">T</span><span class="u">hrottle position</span>', { x: 3657.6, base: 642, size: 60, align: 'center' });
txt('Mean value: <b>6.8 Nm</b>', { x: 1994.5, base: 725.8, size: 49, align: 'center' });
txt('Mean value: <b>2700 rpm</b>', { x: 2830.5, base: 725.8, size: 49, align: 'center' });
txt('Mean value: <b>23 %TPS</b>', { x: 3658, base: 725.8, size: 49, align: 'center' });
txt('Main operation: &nbsp;~ <b>5.5 – 8 Nm</b>', { x: 1995.5, base: 805.2, size: 49, align: 'center' });
txt('Main operation: &nbsp;~ <b>2650 – 2750 rpm</b>', { x: 2831, base: 805.2, size: 49, align: 'center' });
txt('Main operation: &nbsp;~ <b>20 – 27 %TPS</b>', { x: 3657, base: 805.2, size: 49, align: 'center' });

txt('<span class="u first">C</span><span class="u">entre of combustion</span>', { x: 1329.7, base: 1028.7, size: 60 });
txt('<span class="u first">L</span><span class="u">ambda value</span>', { x: 2821.9, base: 1028.7, size: 60, align: 'right' });
txt('Mean value: <b>22.5 °CA</b>', { x: 1329.7, base: 1111.3, size: 49 });
txt('Mean value: <b>0.78</b>', { x: 2821.9, base: 1111.3, size: 49, align: 'right' });
txt('Main operation: &nbsp;~ <b>15 – 30°CA</b>', { x: 1329.7, base: 1190.6, size: 49 });
txt('Main operation: &nbsp;~ <b>0.73 – 0.83</b>', { x: 2821.9, base: 1190.6, size: 49, align: 'right' });

const paragraphLines = [
  'The <b>most frequently load points</b> while mowing are in between 2600 –',
  '2750rpm, 6 – 8Nm and 20 – 25%TPS. <b>Load peaks</b> reach to 2400rpm, 11Nm,',
  '75%TPS. <b>High idle speed</b> is located at about 2750rpm, 3Nm, 12%TPS and',
  '<b>standard idle</b> at around 2800rpm, 1.8Nm, 7%TPS. In general the',
  '<b>carburettor characteristic</b> is on the <b>rich</b> side. At <b>transient operation</b> the',
  'lambda values are alternating strongly and the <b>load enrichment</b> is clearly',
  'depicted. Fast load shifts result in an intense enrichment of the mixture. The',
  '<b>centre of combustion</b> during mowing operation in general is <b>rather late</b>.',
  'The non-variable ignition system causes the 50% MFB point to move with',
  'engine speed and engine load.'
];
const paraBaselines = [1296.7, 1345.6, 1393.2, 1442.1, 1491.0, 1539.9, 1588.8, 1637.7, 1685.3, 1734.2];
paragraphLines.forEach((line, i) => {
  txt(line, { x: 1358.3, base: paraBaselines[i], size: 40, justify: i < paragraphLines.length - 1 ? 1434.4 : 0 });
});
</script>
</body>
</html>
